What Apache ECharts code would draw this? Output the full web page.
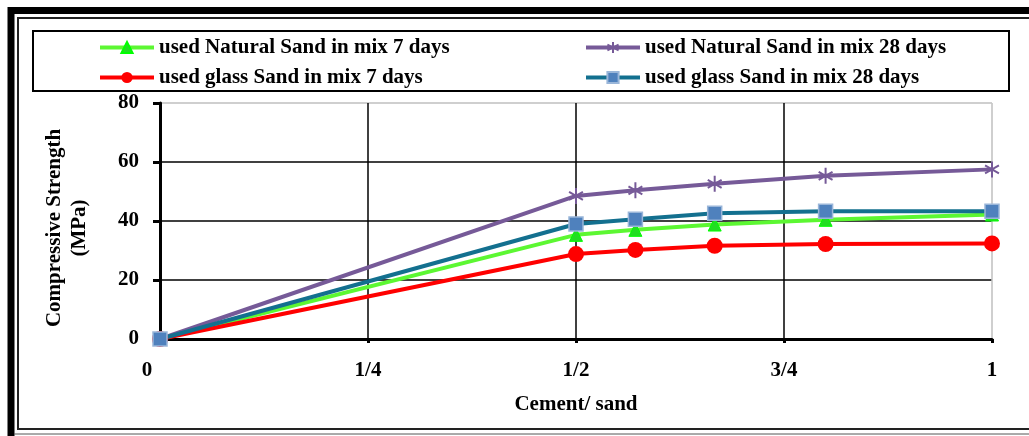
<!DOCTYPE html>
<html>
<head>
<meta charset="utf-8">
<script src="https://cdn.jsdelivr.net/npm/echarts@6/dist/echarts.min.js"></script>
<style>
  html, body { margin: 0; padding: 0; background: #fff; }
  #chart { width: 1029px; height: 436px; }
</style>
</head>
<body>
<div id="chart"></div>
<script>
// Cement-to-sand ratio (1:2, 1:1.75, 1:1.5, 1:1.25, 1:1) plus the origin
const cementSand = [0, 0.5, 0.5714, 0.6667, 0.8, 1];
const xTickLabels = ['0', '1/4', '1/2', '3/4', '1'];

// Compressive strength, MPa
const natural7 = [0, 35.3, 37.0, 38.8, 40.4, 42.2];
const natural28 = [0, 48.5, 50.4, 52.6, 55.3, 57.5];
const glass7 = [0, 28.8, 30.2, 31.6, 32.2, 32.4];
const glass28 = [0, 39.0, 40.6, 42.6, 43.3, 43.3];

const seriesNames = [
  'used Natural Sand in mix 7 days',
  'used Natural Sand in mix 28 days',
  'used glass Sand in mix 7 days',
  'used glass Sand in mix 28 days'
];

const FONT = '"Liberation Serif", "Times New Roman", serif';
const FS = 21;
const pairs = ys => cementSand.map((x, i) => [x, ys[i]]);
const asterisk = 'path://M0,-6L0,6M-5.2,-3L5.2,3M-5.2,3L5.2,-3';

const chart = echarts.init(document.getElementById('chart'), null, { renderer: 'canvas' });

const baseText = { fontFamily: FONT, fontWeight: 'bold', fontSize: FS, color: '#000' };

const legendBase = {
  orient: 'vertical', top: 32, itemGap: 9,
  itemWidth: 54, itemHeight: 14,
  lineStyle: { width: 4 },
  textStyle: baseText
};

chart.setOption({
  animation: false,
  backgroundColor: '#fff',
  textStyle: { fontFamily: FONT },
  grid: {
    left: 160, right: 37, top: 103, bottom: 97,
    show: true, borderColor: '#c8c8c8', borderWidth: 1
  },
  legend: [
    Object.assign({}, legendBase, { left: 93, data: [seriesNames[0], seriesNames[2]] }),
    Object.assign({}, legendBase, { left: 579, data: [seriesNames[1], seriesNames[3]] })
  ],
  xAxis: {
    type: 'value', min: 0, max: 1, interval: 0.25,
    name: 'Cement/ sand', nameLocation: 'middle', nameGap: 55,
    nameTextStyle: baseText,
    axisLine: { lineStyle: { color: '#000', width: 3 } },
    axisTick: { show: true, length: 4, lineStyle: { color: '#000', width: 3 } },
    axisLabel: Object.assign({}, baseText, {
      margin: 21,
      formatter: v => {
        const s = xTickLabels[Math.round(v * 4)];
        return v === 0 ? '{z|' + s + '}' : s;
      },
      rich: { z: Object.assign({}, baseText, { padding: [0, 26, 0, 0] }) }
    }),
    splitLine: { show: true, lineStyle: { color: ['#000', '#000', '#000', '#000', '#c8c8c8'], width: 1.5 } }
  },
  yAxis: {
    type: 'value', min: 0, max: 80, interval: 20,
    name: 'Compressive Strength\n(MPa)', nameLocation: 'middle', nameGap: 68, nameRotate: 90,
    nameTextStyle: Object.assign({}, baseText, { lineHeight: 25, padding: [0, 14, 0, 0] }),
    axisLine: { lineStyle: { color: '#000', width: 3 } },
    axisTick: { show: true, length: 7, lineStyle: { color: '#000', width: 3 } },
    axisLabel: Object.assign({}, baseText, { margin: 21 }),
    splitLine: { show: true, lineStyle: { color: ['#000', '#000', '#000', '#000', '#c8c8c8'], width: 1.5 } }
  },
  series: [
    {
      name: seriesNames[0], type: 'line', data: pairs(natural7),
      symbol: 'triangle', symbolSize: 13,
      lineStyle: { color: '#5cf732', width: 4 },
      itemStyle: { color: '#22dd22', borderColor: '#00ff00', borderWidth: 1 }
    },
    {
      name: seriesNames[1], type: 'line', data: pairs(natural28),
      symbol: asterisk, symbolSize: 16, symbolKeepAspect: true,
      lineStyle: { color: '#765a98', width: 4 },
      itemStyle: { color: '#765a98', borderColor: '#765a98', borderWidth: 2 }
    },
    {
      name: seriesNames[2], type: 'line', data: pairs(glass7),
      symbol: 'circle', symbolSize: 16,
      lineStyle: { color: '#ff0000', width: 4 },
      itemStyle: { color: '#ff0000', borderColor: '#ff0000', borderWidth: 0 }
    },
    {
      name: seriesNames[3], type: 'line', data: pairs(glass28),
      symbol: 'rect', symbolSize: 14,
      lineStyle: { color: '#13708f', width: 4 },
      itemStyle: { color: '#4f81bd', borderColor: '#9ab6d9', borderWidth: 1.5 }
    }
  ],
  graphic: [
    // double frame round the whole figure
    { type: 'polyline', z: 0, silent: true,
      shape: { points: [[11, 440], [11, 10.5], [1040, 10.5]] },
      style: { stroke: '#000', lineWidth: 7, fill: null } },
    { type: 'polyline', z: 0, silent: true,
      shape: { points: [[1040, 18], [18, 18], [18, 429], [1040, 429]] },
      style: { stroke: '#222', lineWidth: 2, fill: null } },
    { type: 'line', z: 0, silent: true,
      shape: { x1: 14, y1: 434, x2: 1040, y2: 434 },
      style: { stroke: '#555', lineWidth: 1 } },
    // legend box
    { type: 'rect', z: 0, silent: true,
      shape: { x: 33, y: 31, width: 976, height: 60 },
      style: { stroke: '#000', lineWidth: 2, fill: null } }
  ]
});
</script>
</body>
</html>
